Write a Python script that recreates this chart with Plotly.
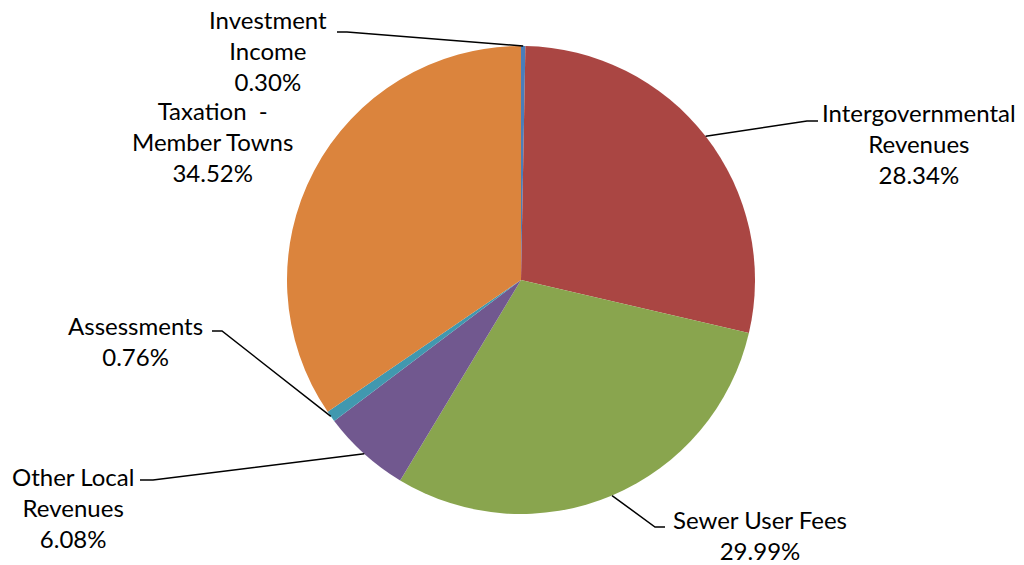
import math
import plotly.graph_objects as go

# Revenue sources, clockwise from 12 o'clock
labels = ["Investment Income", "Intergovernmental Revenues", "Sewer User Fees",
          "Other Local Revenues", "Assessments", "Taxation - Member Towns"]
shares = [0.30, 28.34, 29.99, 6.08, 0.76, 34.52]
label_text = ["Investment<br>Income", "Intergovernmental<br>Revenues", "Sewer User Fees",
              "Other Local<br>Revenues", "Assessments", "Taxation  -<br>Member Towns"]
colors = ["#4a7ebb", "#aa4643", "#89a54e", "#71588f", "#4198af", "#db843d"]

W, H = 1024, 565
CX, CY, R = 521, 280, 234  # pie centre and radius in pixels

def px(x):
    return x / W

def py(y):
    return 1 - y / H

fig = go.Figure(go.Pie(
    labels=labels, values=shares, sort=False, direction="clockwise", rotation=0,
    marker=dict(colors=colors, line=dict(width=0)),
    textinfo="none", hoverinfo="label+percent", showlegend=False,
    domain=dict(x=[px(CX - R), px(CX + R)], y=[py(CY + R), py(CY - R)]),
))

# label block centre, elbow point and elbow end (pixels); None = no leader line
placement = [
    dict(text_at=(268, 50), elbow=(347, 32), tail=(337, 32)),
    dict(text_at=(919, 143), elbow=(807, 121), tail=(818, 121)),
    dict(text_at=(760, 535), elbow=(655, 527), tail=(665, 527)),
    dict(text_at=(73, 507), elbow=(153, 480), tail=(140, 480)),
    dict(text_at=(135, 341), elbow=(222, 331), tail=(212, 331)),
    dict(text_at=(212, 141), elbow=None, tail=None),
]

total = sum(shares)
cum = 0.0
for name, val, p in zip(label_text, shares, placement):
    mid = (cum + val / 2) / total * 2 * math.pi
    cum += val
    tx, ty = p["text_at"]
    fig.add_annotation(
        x=px(tx), y=py(ty), xref="paper", yref="paper",
        text=f"{name}<br>{val:.2f}%", showarrow=False,
        xanchor="center", yanchor="middle", align="center",
        font=dict(family="Lato", size=24, color="#000000"),
    )
    if p["elbow"] is not None:
        sx = CX + R * math.sin(mid)
        sy = CY - R * math.cos(mid)
        ex, ey = p["elbow"]
        lx, ly = p["tail"]
        fig.add_shape(type="path", xref="paper", yref="paper",
                      path=f"M {px(sx)},{py(sy)} L {px(ex)},{py(ey)} L {px(lx)},{py(ly)}",
                      line=dict(color="#000000", width=1.5))

fig.update_layout(
    width=W, height=H, margin=dict(l=0, r=0, t=0, b=0),
    paper_bgcolor="#ffffff", plot_bgcolor="#ffffff",
)
fig.write_html("out.html")
